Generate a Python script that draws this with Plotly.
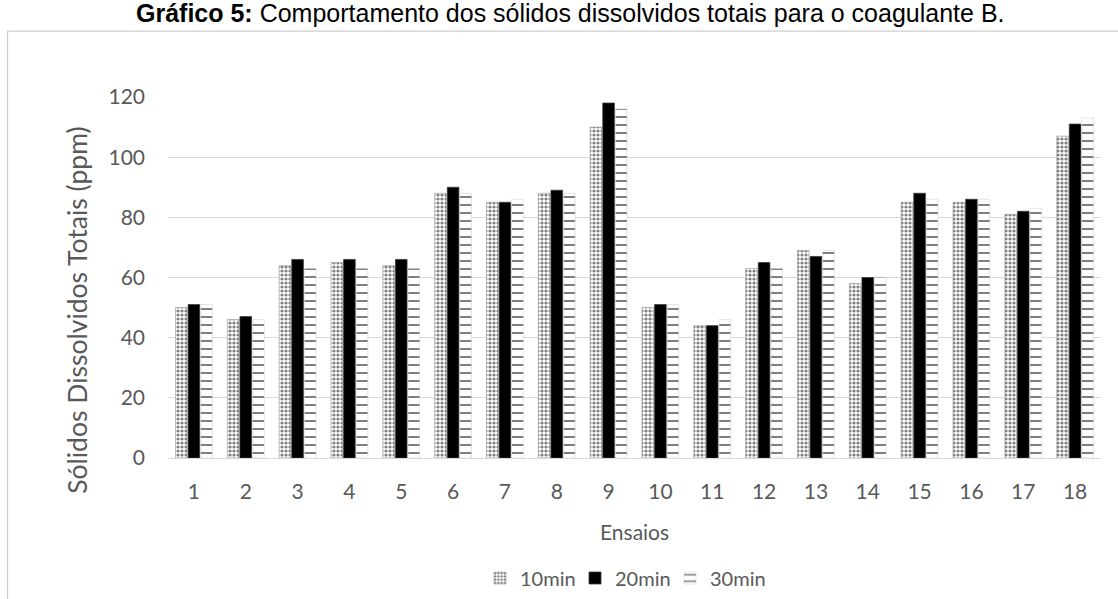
import plotly.graph_objects as go

# Ensaios (x categories) and total dissolved solids per contact time
ensaios = [str(i) for i in range(1, 19)]
tds_10min = [50, 46, 64, 65, 64, 88, 85, 88, 110, 50, 44, 63, 69, 58, 85, 85, 81, 107]
tds_20min = [51, 47, 66, 66, 66, 90, 85, 89, 118, 51, 44, 65, 67, 60, 88, 86, 82, 111]
tds_30min = [51, 46, 63, 63, 63, 88, 86, 88, 116, 51, 46, 63, 69, 60, 86, 86, 83, 113]
y_ticks = [0, 20, 40, 60, 80, 100, 120]

W, H = 1118, 599
PL, PR, PT, PB = 168, 1101, 97, 458.3  # plot area in pixels


def xp(px):
    return (px - PL) / (PR - PL)


def yp(py):
    return (PB - py) / (PB - PT)


GREY_TXT = "#595959"
GRID = "#d9d9d9"
FONT = "Lato"

fig = go.Figure()
fig.add_trace(go.Bar(
    name="10min", x=ensaios, y=tds_10min,
    marker=dict(color="white",
                line=dict(color="#9a9a9a", width=0.6),
                pattern=dict(shape=".", fgcolor="black", bgcolor="white",
                             size=4, solidity=0.5)),
))
fig.add_trace(go.Bar(
    name="20min", x=ensaios, y=tds_20min,
    marker=dict(color="black", line=dict(color="#3a3a3a", width=0.8)),
))
fig.add_trace(go.Bar(
    name="30min", x=ensaios, y=tds_30min,
    marker=dict(color="white",
                line=dict(color="#c8c8c8", width=0.5),
                pattern=dict(shape="-", fgcolor="black", bgcolor="white",
                             size=8, solidity=0.25)),
))

fig.update_layout(
    width=W, height=H,
    margin=dict(l=PL, r=W - PR, t=PT, b=H - PB, pad=0, autoexpand=False),
    paper_bgcolor="white", plot_bgcolor="white",
    barmode="group", bargap=0.27, bargroupgap=0.08,
    font=dict(family=FONT, size=21, color=GREY_TXT),
    showlegend=True,
    legend=dict(orientation="h", xref="container", yref="container",
                x=480 / W, y=1 - 578 / H, xanchor="left", yanchor="middle",
                font=dict(family=FONT, size=20, color=GREY_TXT),
                bgcolor="rgba(0,0,0,0)", itemwidth=30,
                entrywidth=50, entrywidthmode="pixels"),
    xaxis=dict(showgrid=False, showline=True, linecolor=GRID, linewidth=1,
               ticks="", tickfont=dict(family=FONT, size=21, color=GREY_TXT),
               ticklabelstandoff=15),
    yaxis=dict(range=[0, 120], tickvals=y_ticks, showgrid=True,
               gridcolor=GRID, gridwidth=1, zeroline=False, showline=False,
               ticks="", tickfont=dict(family=FONT, size=21, color=GREY_TXT),
               ticklabelstandoff=22),
    annotations=[
        dict(text="Ensaios", x=xp(634), y=yp(532), xref="paper", yref="paper",
             showarrow=False, xanchor="center", yanchor="middle",
             font=dict(family=FONT, size=21, color=GREY_TXT)),
        dict(text="Sólidos Dissolvidos Totais (ppm)", x=xp(77), y=yp(311),
             xref="paper", yref="paper", showarrow=False, textangle=-90,
             xanchor="center", yanchor="middle",
             font=dict(family=FONT, size=26.5, color=GREY_TXT)),
        dict(text="<b>Gráfico 5:</b> Comportamento dos sólidos dissolvidos totais para o coagulante B.",
             x=xp(570), y=yp(29), xref="paper", yref="paper", showarrow=False,
             xanchor="center", yanchor="bottom",
             font=dict(family="Liberation Sans", size=25, color="black")),
    ],
    shapes=[
        dict(type="rect", xref="paper", yref="paper",
             x0=xp(7.5), x1=xp(1135), y0=yp(31), y1=yp(620),
             line=dict(color="#d0d0d0", width=1.3), fillcolor="rgba(0,0,0,0)",
             layer="below"),
    ],
)

fig.write_html("out.html")
